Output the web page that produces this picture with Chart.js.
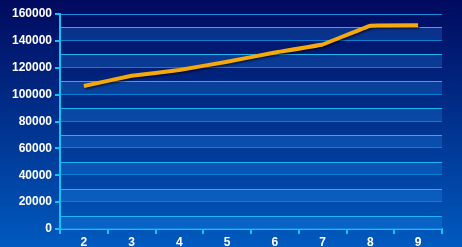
<!DOCTYPE html>
<html>
<head>
<meta charset="utf-8">
<script src="https://cdn.jsdelivr.net/npm/chart.js@4/dist/chart.umd.min.js"></script>
<style>
html,body{margin:0;padding:0;background:#00307f;}
#wrap{width:462px;height:247px;position:relative;}
</style>
</head>
<body>
<div id="wrap"><canvas id="c" width="462" height="247"></canvas></div>
<script>
const categories = ['2','3','4','5','6','7','8','9'];
const seriesValues = [106400, 114000, 118300, 124500, 131300, 137300, 151300, 151600];
const yTickMin = 0;
const yTickMax = 160000;
const yTickStep = 20000;

const bgPlugin = {
  id: 'bg',
  beforeDraw(chart) {
    const ctx = chart.ctx;
    const g = ctx.createLinearGradient(0, 0, 0, chart.height);
    g.addColorStop(0, '#000a5e');
    g.addColorStop(1, '#005abf');
    ctx.save();
    ctx.fillStyle = g;
    ctx.fillRect(0, 0, chart.width, chart.height);
    ctx.restore();
  },
  beforeDatasetsDraw(chart) {
    const ctx = chart.ctx;
    const ys = chart.scales.y;
    const area = chart.chartArea;
    const half = yTickStep / 2;
    ctx.save();
    const yTop = Math.round(ys.getPixelForValue(yTickMax)) + 0.5;
    ctx.strokeStyle = '#1a8fe0';
    ctx.lineWidth = 1;
    ctx.beginPath(); ctx.moveTo(area.left + 1, yTop); ctx.lineTo(area.right, yTop); ctx.stroke();
    for (let v = yTickMin; v < yTickMax; v += yTickStep) {
      const yb = Math.round(ys.getPixelForValue(v));
      const yt = Math.round(ys.getPixelForValue(v + half));
      ctx.fillStyle = 'rgba(40,160,255,0.22)';
      ctx.fillRect(area.left + 1, yt, area.right - area.left - 1, yb - yt);
      ctx.strokeStyle = '#1cb4f2';
      ctx.beginPath(); ctx.moveTo(area.left + 1, yt + 0.5); ctx.lineTo(area.right, yt + 0.5); ctx.stroke();
      ctx.strokeStyle = '#0a7fd6';
      ctx.beginPath(); ctx.moveTo(area.left + 1, yb - 0.5); ctx.lineTo(area.right, yb - 0.5); ctx.stroke();
    }
    ctx.restore();
    ctx.save();
    ctx.shadowColor = 'rgba(0,0,20,0.6)';
    ctx.shadowOffsetX = 1.5;
    ctx.shadowOffsetY = 1.5;
    ctx.shadowBlur = 2;
  },
  afterDatasetsDraw(chart) {
    chart.ctx.restore();
  }
};

new Chart(document.getElementById('c'), {
  type: 'line',
  data: {
    labels: categories,
    datasets: [{
      data: seriesValues,
      borderColor: '#f5a90c',
      borderWidth: 4,
      pointRadius: 0,
      tension: 0.05,
      fill: false,
      borderCapStyle: 'butt',
      borderJoinStyle: 'round'
    }]
  },
  options: {
    responsive: false,
    animation: false,
    devicePixelRatio: 1,
    layout: { padding: { top: 14, right: 20, left: 0, bottom: 0 } },
    plugins: { legend: { display: false }, tooltip: { enabled: false } },
    scales: {
      x: {
        offset: true,
        grid: { offset: true, drawOnChartArea: false, drawTicks: true, tickLength: 5, color: '#12c4f6', lineWidth: 2 },
        border: { display: true, color: '#12c4f6', width: 2 },
        ticks: { color: '#ffffff', font: { family: 'Liberation Sans, Arial, sans-serif', size: 12, weight: 'bold' }, padding: 1, maxRotation: 0 },
        afterFit(s) { s.height = 18; }
      },
      y: {
        min: yTickMin,
        max: yTickMax,
        grid: { drawOnChartArea: false, drawTicks: true, tickLength: 5, color: '#12c4f6', lineWidth: 2 },
        border: { display: true, color: '#12c4f6', width: 2 },
        ticks: { stepSize: yTickStep, color: '#ffffff', font: { family: 'Liberation Sans, Arial, sans-serif', size: 12, weight: 'bold' }, padding: 3,
          callback: (v) => String(v) },
        afterFit(s) { s.width = 60; }
      }
    }
  },
  plugins: [bgPlugin]
});
</script>
</body>
</html>
